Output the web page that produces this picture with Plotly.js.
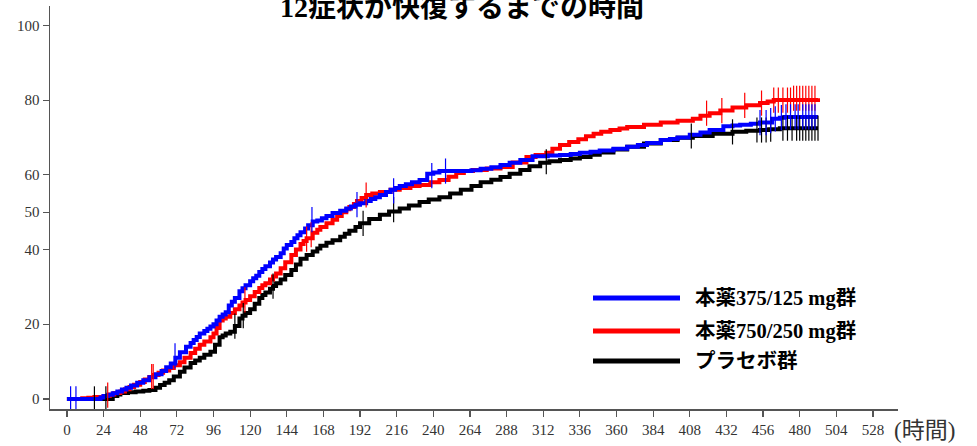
<!DOCTYPE html>
<html>
<head>
<meta charset="utf-8">
<script src="https://cdn.plot.ly/plotly-3.0.1.min.js"></script>
<style>html,body{margin:0;padding:0;background:#fff;}#chart{width:977px;height:446px;}</style>
</head>
<body>
<div id="chart"></div>
<script>
// ---- Data: [hours, cumulative % recovered] ----
const seriesNames = ["本薬375/125 mg群", "本薬750/250 mg群", "プラセボ群"];
const seriesColors = ["#0000ff", "#ff0000", "#000000"];

const blueCurve = [[0,0],[20,0],[22,0.4],[24,0.8],[27,1.1],[30,1.5],[33,2],[36,2.5],[39,3],[42,3.6],
 [46,4.3],[50,5],[54,5.8],[58,6.6],[62,7.5],[65,8.5],[68,9.5],[71,11],[74,12.5],[78,14],
 [81,15],[83,15.8],[85,16.6],[87,17.5],[90,18.2],[92,18.8],[94,19.4],[96,20],[98,21],[100,22],
 [102,22.6],[104,23.2],[106,25],[108,26],[110,27],[113,28.8],[115,29.6],[117,30.4],[120,31.5],[122,32.3],
 [124,33],[126,34],[128,34.8],[130,35.5],[133,36.5],[135,37.3],[137,38],[140,39],[142,40.3],[144,41.2],
 [147,42],[149,43],[151,43.8],[153,44.6],[156,45.6],[158,46.5],[161,47.5],[164,47.8],[167,48.4],[170,49],
 [174,49.8],[179,50.4],[183,51],[186,51.5],[189,52],[192,52.4],[196,53],[199,53.5],[202,54],[205,54.6],
 [209,55.4],[212,56],[215,56.5],[218,57],[222,57.5],[226,58],[231,58.6],[236,60.3],[240,60.6],[244,61],
 [250,61],[258,61],[265,61.2],[271,61.6],[278,62],[284,62.6],[290,63.2],[297,64],[305,65],[315,65.2],
 [323,65.3],[330,65.6],[336,65.9],[343,66.2],[349,66.5],[358,67],[367,67.5],[374,68],[380,68.5],[389,69.3],
 [395,69.6],[400,70],[408,70.7],[415,71.3],[421,72],[430,73],[436,73.2],[441,73.4],[448,73.7],[454,74],
 [462,75],[467,75.3],[470,75.5],[492,75.5]];

const redCurve = [[0,0],[5,0],[10,0.2],[14,0.3],[18,0.5],[24,0.8],[28,1.2],[31,1.6],[35,2],[38,2.6],
 [41,3.2],[44,3.8],[48,4.5],[51,5.2],[54,5.9],[57,6.4],[60,7],[63,7.6],[67,8.3],[70,9],
 [74,9.8],[77,11],[81,12.3],[84,13.4],[87,14.5],[90,15.4],[94,16.5],[96,17.5],[98,19],[100,21],
 [102,21.5],[104,22],[107,23],[110,24],[113,25],[115,25.8],[117,26.5],[120,27.5],[123,28.6],[126,29.7],
 [128,30.4],[130,31],[133,32],[135,32.8],[137,33.6],[140,35],[143,36.6],[147,38.5],[150,40],[153,41.5],
 [155,42.3],[157,43],[161,44.5],[164,45.3],[166,46],[170,47],[174,48],[177,49],[180,50],[183,50.8],
 [185,51.4],[188,52.2],[190,53],[193,53.8],[196,54.6],[200,55],[205,55.4],[212,56],[218,56.5],[225,57],
 [231,57.3],[238,58],[244,58.6],[250,59.5],[255,60.5],[260,61],[266,61.3],[275,61.7],[284,62.1],[292,63.3],
 [301,64.8],[307,65.3],[314,65.9],[318,67],[323,68],[329,68.8],[335,69.5],[340,70.3],[345,71],[350,71.5],
 [356,72],[362,72.4],[367,72.8],[378,73.4],[389,74],[400,74.5],[410,75],[415,75.8],[421,76.5],[428,77.2],
 [436,78],[445,78.6],[454,79.2],[459,79.6],[463,80],[492,80.5]];

const blackCurve = [[0,0],[27,0],[30,0.8],[33,1.2],[35,1.6],[40,1.8],[45,2],[50,2.2],[54,2.4],[58,3],
 [61,3.7],[64,4.3],[67,5],[70,6],[74,7.3],[77,8.4],[81,9.6],[84,10.3],[87,11],[90,11.8],
 [94,12.6],[97,14.5],[100,16.5],[102,17],[104,17.5],[107,18],[110,19.5],[113,21.5],[115,22.3],[117,23],
 [120,24],[123,25.5],[126,27],[128,27.8],[130,28.5],[133,29.5],[135,30.2],[137,31],[140,32],[143,33.2],
 [147,34.5],[150,36],[153,37.5],[157,38.5],[161,39.5],[164,40.3],[166,41],[170,41.8],[174,42.5],[179,43.4],
 [182,44.2],[185,45],[189,46],[192,47],[198,48.2],[205,49.3],[211,50.2],[218,51],[224,51.8],[231,52.7],
 [237,53.4],[244,54],[251,55],[258,56],[265,57],[271,58],[278,58.7],[284,59.4],[290,60.3],[297,61.3],
 [303,62.3],[310,63.2],[316,63.6],[323,64],[330,64.4],[336,64.8],[343,65.4],[349,66],[358,66.8],[367,67.5],
 [378,68.4],[389,69.3],[400,69.9],[410,70.4],[423,71],[436,71.5],[445,71.8],[454,72],[460,72.2],[467,72.5],
 [492,72.5]];

// censored observations [hours, %]
const blueCensor = [[2.4,0],[5.9,0],[70.8,11.5],[160.5,48],[190,52],[214,55.7],[239,59.8],[248,61],
 [454,74],[458,74],[461,74.5],[464,75],[468,75.3],[471,75.5],[474,75.5],[477,75.5],[479,75.5],[482,75.5],
 [484,75.5],[486,75.5],[488,75.5],[490,75.5]];
const redCensor = [[26.7,1],[55.5,6],[56.5,6],[116.6,26.5],[157,42.8],[160,44],[196,54.6],[419,76.5],
 [429,77.2],[444,78.6],[455,79.2],[463,80],[466,80],[469,80],[472,80],[474,80],[476,80.5],[478,80.5],
 [480,80.5],[482,80.5],[484,80.5],[486,80.5],[488,80.5],[490,80.5]];
const blackCensor = [[18,0],[25.5,0],[110,19.5],[115.5,22.3],[135,30.2],[194,47],[214,50.7],[314,63.5],
 [409,70.4],[436,71.5],[452,72],[455,72],[458,72],[461,72.2],[469,72.5],[472,72.5],[475,72.5],[478,72.5],
 [480,72.5],[482,72.5],[484,72.5],[486,72.5],[488,72.5],[490,72.5],[492,72.5]];

const xTicks = [0,24,48,72,96,120,144,168,192,216,240,264,288,312,336,360,384,408,432,456,480,504,528];
const yTicks = [0,20,40,50,60,80,100];
const titleText = "12症状が快復するまでの時間";
const xUnit = "(時間)";

// ---- Layout geometry (pixels) ----
const W = 977, H = 446;
const L = 50, R = 898, T = 6, B = 409;
const px = x => (x - L) / (R - L);
const py = y => (B - y) / (B - T);

const serif = '"Liberation Serif", "Noto Sans CJK JP", serif';

function curve(pts, c) {
  return {x: pts.map(p => p[0]), y: pts.map(p => p[1]), type: 'scatter', mode: 'lines',
    line: {shape: 'hv', color: c, width: 4}, showlegend: false, hoverinfo: 'skip'};
}
function censor(pts, c) {
  return {x: pts.map(p => p[0]), y: pts.map(p => p[1]), type: 'scatter', mode: 'markers',
    marker: {symbol: 'line-ns-open', size: 18, color: c, line: {color: c, width: 1.2}}, showlegend: false, hoverinfo: 'skip'};
}

const data = [
  curve(blackCurve, seriesColors[2]),
  curve(redCurve, seriesColors[1]),
  curve(blueCurve, seriesColors[0]),
  censor(blackCensor, seriesColors[2]),
  censor(redCensor, seriesColors[1]),
  censor(blueCensor, seriesColors[0])
];

const legendY = [298, 331, 361];
const shapes = [], annotations = [];
seriesNames.forEach((n, i) => {
  shapes.push({type: 'line', xref: 'paper', yref: 'paper', x0: px(593), x1: px(680), y0: py(legendY[i]), y1: py(legendY[i]), line: {color: seriesColors[i], width: 5}});
  annotations.push({xref: 'paper', yref: 'paper', x: px(693), y: py(legendY[i]), xanchor: 'left', yanchor: 'middle', text: '<b>' + n + '</b>', showarrow: false, font: {family: serif, size: 20.5, color: '#000'}});
});
annotations.push({xref: 'paper', yref: 'paper', x: px(892), y: py(430), xanchor: 'left', yanchor: 'middle', text: xUnit, showarrow: false, font: {family: serif, size: 23, color: '#333'}});

const tickFont = {family: serif, size: 15, color: '#333'};
const layout = {
  width: W, height: H,
  margin: {l: L, r: W - R, t: T, b: H - B, pad: 0},
  paper_bgcolor: '#fff', plot_bgcolor: '#fff',
  title: {text: '<b>' + titleText + '</b>', x: 462 / W, xanchor: 'center', xref: 'container', yref: 'container', y: 1 - 7 / H, yanchor: 'middle', font: {family: serif, size: 28, color: '#000'}},
  xaxis: {range: [-11.1, 544.4], tickvals: xTicks, ticktext: xTicks.map(String), showgrid: false, zeroline: false, showline: true, linecolor: '#555', linewidth: 1.5, ticks: 'outside', ticklen: 6, tickcolor: '#555', tickwidth: 1.2, tickfont: tickFont},
  yaxis: {range: [-2.7, 105.2], tickvals: yTicks, ticktext: yTicks.map(String), showgrid: false, zeroline: false, showline: true, linecolor: '#555', linewidth: 1.5, ticks: 'outside', ticklen: 6, tickcolor: '#555', tickwidth: 1.2, tickfont: tickFont},
  shapes: shapes,
  annotations: annotations,
  showlegend: false
};

Plotly.newPlot('chart', data, layout, {displayModeBar: false, staticPlot: true});
</script>
</body>
</html>
